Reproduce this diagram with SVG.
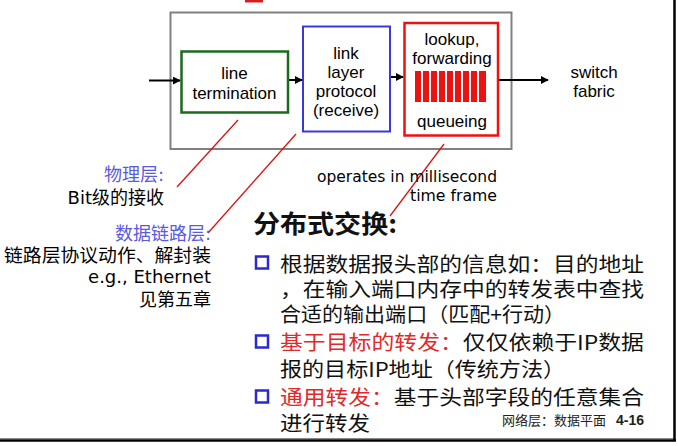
<svg xmlns="http://www.w3.org/2000/svg" width="678" height="446" viewBox="0 0 678 446">
<defs>
<marker id="ah" viewBox="0 0 10 10" refX="9" refY="5" markerWidth="4" markerHeight="4" orient="auto" markerUnits="strokeWidth">
<path d="M0,0 L10,5 L0,10 z" fill="#000"/>
</marker>
</defs>
<style>
.lbl{font-family:"Liberation Sans",Arial,sans-serif;font-size:17px;fill:#000;text-anchor:middle}
.cjk{font-family:"DejaVu Sans","Noto Sans CJK SC",sans-serif;font-size:18px;text-anchor:end}
.cs{font-family:"DejaVu Sans",sans-serif;font-size:16px;text-anchor:end;fill:#000}
.body{font-family:"Noto Sans CJK SC",sans-serif;font-size:20px;fill:#111}
.red{fill:#e02a2a}
.blue{fill:#5a5ae0}
.lead{stroke:#e01010;stroke-width:1.3;fill:none}
.arr{stroke:#000;stroke-width:2;fill:none;marker-end:url(#ah)}
.bul{fill:#fff;stroke:#2a2ad0;stroke-width:2.5}
</style>
<rect width="678" height="446" fill="#fff"/>
<path d="M245,1 L263,1" stroke="#d02020" stroke-width="3"/>
<g id="router">
<rect x="170.5" y="12.5" width="341" height="136.5" fill="none" stroke="#808080" stroke-width="2"/>
</g>
<g id="line-termination">
<rect x="181.5" y="51.5" width="106.5" height="61" fill="#fff" stroke="#1a6b1a" stroke-width="2.5"/>
<text class="lbl" x="234.5" y="78.5">line</text>
<text class="lbl" x="234.5" y="99">termination</text>
</g>
<g id="link-layer">
<rect x="303" y="26.5" width="87" height="105" fill="#fff" stroke="#3a3ad8" stroke-width="2"/>
<text class="lbl" x="346" y="59">link</text>
<text class="lbl" x="346" y="78">layer</text>
<text class="lbl" x="346" y="97">protocol</text>
<text class="lbl" x="346" y="115.5">(receive)</text>
</g>
<g id="lookup">
<rect x="404.5" y="23" width="93.5" height="112.5" fill="#fff" stroke="#f01010" stroke-width="2.5"/>
<text class="lbl" x="452" y="45">lookup,</text>
<text class="lbl" x="452" y="64">forwarding</text>
<text class="lbl" x="452" y="127">queueing</text>
<g fill="#f01010">
<rect x="415" y="71" width="6" height="31"/>
<rect x="423" y="71" width="6" height="31"/>
<rect x="431" y="71" width="6" height="31"/>
<rect x="439" y="71" width="6" height="31"/>
<rect x="447" y="71" width="6" height="31"/>
<rect x="455" y="71" width="6" height="31"/>
<rect x="463" y="71" width="6" height="31"/>
<rect x="471" y="71" width="6" height="31"/>
<rect x="479" y="71" width="7" height="31"/>
</g>
</g>
<g id="switch-fabric">
<text class="lbl" x="594" y="78">switch</text>
<text class="lbl" x="594" y="97">fabric</text>
</g>
<g id="connectors">
<line class="arr" x1="149" y1="80.5" x2="180" y2="80.5"/>
<line class="arr" x1="289" y1="80" x2="302" y2="80"/>
<line class="arr" x1="391" y1="77" x2="403" y2="77"/>
<line class="arr" x1="499" y1="80" x2="548" y2="80"/>
<line class="lead" x1="238" y1="120" x2="177" y2="187"/>
<line class="lead" x1="296" y1="134" x2="208" y2="233"/>
<line class="lead" x1="444" y1="144" x2="390" y2="216"/>
</g>
<g id="notes-left">
<text class="cjk blue" x="164" y="181">物理层:</text>
<text class="cjk" x="164" y="204" fill="#000">Bit级的接收</text>
<text class="cjk blue" x="211" y="240">数据链路层:</text>
<text class="cjk" x="211" y="262" fill="#000" textLength="207" lengthAdjust="spacingAndGlyphs">链路层协议动作、解封装</text>
<text class="cjk" x="211" y="283" fill="#000">e.g., Ethernet</text>
<text class="cjk" x="211" y="306" fill="#000">见第五章</text>
</g>
<g id="note-time">
<text class="cs" x="497" y="182" textLength="180" lengthAdjust="spacingAndGlyphs">operates in millisecond</text>
<text class="cs" x="497" y="201" textLength="87" lengthAdjust="spacingAndGlyphs">time frame</text>
</g>
<g id="body">
<text x="253" y="233" font-family="'Noto Sans CJK SC',sans-serif" font-size="25" font-weight="bold" fill="#111" textLength="144" lengthAdjust="spacingAndGlyphs">分布式交换:</text>
<rect class="bul" x="256" y="256.5" width="12" height="12"/>
<text class="body" x="280" y="272" textLength="364" lengthAdjust="spacingAndGlyphs">根据数据报头部的信息如：目的地址</text>
<text class="body" x="280" y="297" textLength="364" lengthAdjust="spacingAndGlyphs">，在输入端口内存中的转发表中查找</text>
<text class="body" x="280" y="322" textLength="285" lengthAdjust="spacingAndGlyphs">合适的输出端口（匹配+行动）</text>
<rect class="bul" x="256" y="335.5" width="12" height="12"/>
<text class="body" x="280" y="350" textLength="364" lengthAdjust="spacingAndGlyphs"><tspan class="red">基于目标的转发：</tspan>仅仅依赖于IP数据</text>
<text class="body" x="280" y="377" textLength="285" lengthAdjust="spacingAndGlyphs">报的目标IP地址（传统方法）</text>
<rect class="bul" x="256" y="390.5" width="12" height="12"/>
<text class="body" x="280" y="405" textLength="364" lengthAdjust="spacingAndGlyphs"><tspan class="red">通用转发：</tspan>基于头部字段的任意集合</text>
<text class="body" x="280" y="431" textLength="90" lengthAdjust="spacingAndGlyphs">进行转发</text>
<text x="502" y="425" font-family="'Noto Sans CJK SC',sans-serif" font-size="13" fill="#222">网络层：数据平面</text>
<text x="644" y="425" font-family="'Liberation Sans',sans-serif" font-size="14" font-weight="bold" fill="#222" text-anchor="end">4-16</text>
</g>
<g id="frame">
<line x1="0" y1="438.5" x2="675" y2="438.5" stroke="#888" stroke-width="1"/>
<line x1="0" y1="440.5" x2="676" y2="440.5" stroke="#000" stroke-width="2.5"/>
<line x1="674.5" y1="0" x2="674.5" y2="441" stroke="#000" stroke-width="2.5"/>
</g>
</svg>
